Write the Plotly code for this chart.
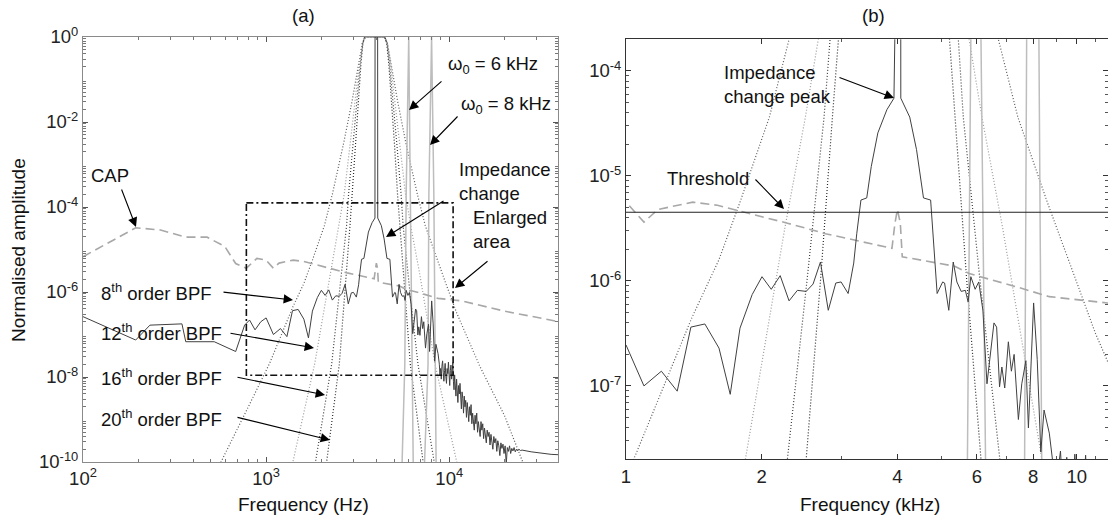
import plotly.graph_objects as go

# ---------------- data (frequency in Hz, amplitude as log10 exponent) ----------------
spec_f = [100, 140, 194, 232, 347, 364, 521, 682, 763, 812, 870, 935, 1000, 1096, 1198, 1299,
          1393, 1496, 1608, 1703, 1790, 1905, 2003, 2100, 2198, 2300, 2400, 2510, 2600, 2700,
          2810, 2920, 3000, 3110, 3200, 3250, 3320, 3420, 3500, 3620, 3790, 3930, 3935, 4065,
          4070, 4260, 4410, 4570, 4740, 4860, 4900, 5040, 5090, 5200, 5320, 5420, 5540, 5660,
          5740, 5820, 5950, 6060, 6190, 6320, 6430, 6550, 6640, 6740, 6820, 6920, 7050, 7160,
          7260, 7420, 7550, 7710, 7810, 8020, 8170, 8320, 8460, 8690,
          8830, 8900, 8970, 9050, 9120, 9200, 9280, 9350, 9430, 9500, 9580, 9660, 9740, 9820,
          9900, 9980, 10060, 10140, 10220, 10300, 10380, 10460, 10540, 10620, 10700, 10790,
          10880, 10970, 11060, 11150, 11250, 11350, 11450, 11550, 11650, 11750, 11860, 11970,
          12080, 12190, 12300, 12420, 12540, 12660, 12780, 12900, 13030, 13160, 13290, 13420,
          13560, 13700, 13840, 13980, 14130, 14280, 14430, 14590, 14750, 14910, 15070, 15240,
          15410, 15580, 15760, 15940, 16120, 16310, 16500, 16700, 16900, 17100, 17310, 17520,
          17740, 17960, 18190, 18420, 18660, 18900, 19150, 19400, 19660, 19920, 20200, 20480,
          20760, 21050, 21350, 21650, 21960, 22280, 22600, 22940, 23280, 23630, 24000, 24500,
          25000, 28000, 32000, 36000, 40000]
spec_e = [-6.58, -6.85, -7.13, -6.78, -6.75, -7.17, -7.17, -7.40, -6.78, -6.66, -6.89, -6.70,
          -6.61, -7.00, -6.86, -7.05, -6.44, -6.41, -6.64, -7.08, -6.45, -6.13, -5.96, -6.08,
          -5.95, -6.19, -6.09, -6.10, -6.03, -5.82, -6.28, -6.02, -6.01, -6.12, -5.83, -5.55,
          -5.23, -5.21, -4.91, -4.59, -4.37, -4.26, 0.0, 0.0, -4.26, -4.44, -4.75, -5.21, -5.23,
          -5.86, -6.12, -6.01, -6.02, -6.28, -5.82, -6.01, -6.10, -6.09, -6.20, -5.96, -6.08,
          -6.01, -6.28, -6.98, -6.72, -6.40, -6.44, -7.01, -6.82, -7.02, -6.58, -6.86, -6.70,
          -7.32, -6.98, -6.76, -7.40, -6.21, -6.75, -7.63, -7.23, -7.45,
          -7.70, -7.95, -7.80, -8.05, -7.75, -7.62, -7.90, -8.10, -7.85, -7.68, -7.98, -8.15,
          -7.80, -7.92, -7.65, -8.00, -8.20, -7.85, -7.72, -8.05, -7.90, -7.66, -8.10, -8.30,
          -7.95, -8.15, -8.45, -8.05, -8.25, -8.60, -8.20, -8.40, -8.15, -8.55, -8.75, -8.35,
          -8.50, -8.85, -8.45, -8.70, -8.55, -8.95, -8.60, -8.80, -9.05, -8.70, -8.90, -8.65,
          -9.10, -8.85, -9.00, -9.25, -8.90, -9.10, -8.85, -9.30, -9.05, -9.20, -9.40, -9.05,
          -9.25, -9.10, -9.45, -9.20, -9.35, -9.55, -9.25, -9.40, -9.30, -9.60, -9.35, -9.50,
          -9.70, -9.40, -9.55, -9.45, -9.75, -9.50, -9.62, -9.85, -9.55, -9.68, -9.58, -9.80,
          -9.62, -10.05, -9.66, -9.75, -9.62, -9.80, -9.68, -9.74, -9.66, -9.76, -9.70, -9.74,
          -9.70, -9.73, -9.72, -9.76, -9.80, -9.82, -9.83]

cap_f = [100, 194, 265, 364, 476, 595, 682, 780, 890, 1000, 1096, 1177, 1406, 1595, 1806,
         2280, 2770, 3890, 3950, 4000, 4060, 4100, 5360, 5770, 7260, 8690, 11700, 20000, 40000]
cap_e = [-5.17, -4.49, -4.54, -4.71, -4.71, -4.93, -5.33, -5.44, -5.21, -5.25, -5.44, -5.32,
         -5.25, -5.28, -5.34, -5.45, -5.55, -5.69, -5.45, -5.32, -5.45, -5.77, -5.86, -5.93,
         -6.05, -6.15, -6.21, -6.45, -6.70]

bpf8_f = [500, 567, 800, 1047, 1400, 1607, 1790, 2080, 2300, 2650, 2950, 3200, 3350, 3500,
          4400, 4600, 4800, 5220, 5800, 6700, 7400, 8600, 9580, 11000, 14700, 20000, 25000, 28000]
bpf8_e = [-10.6, -10.0, -8.7, -7.67, -6.35, -5.8, -5.25, -4.44, -3.7, -2.5, -1.5, -0.6, -0.15,
          0.0, 0.0, -0.15, -0.6, -1.5, -2.5, -3.7, -4.44, -5.25, -5.8, -6.5, -7.75, -8.9,
          -10.0, -10.5]

bpf12_f = [1300, 1400, 1840, 2250, 2500, 2670, 2880, 3050, 3230, 3350, 3450, 4450, 4600, 4770,
           5050, 5350, 5770, 6160, 6850, 8370, 11000, 11800]
bpf12_e = [-10.6, -10.0, -7.7, -5.5, -4.44, -3.7, -2.5, -1.5, -0.6, -0.15, 0.0, 0.0, -0.15,
           -0.6, -1.5, -2.5, -3.7, -4.44, -5.5, -7.7, -10.0, -10.6]

bpf16_f = [1780, 1860, 2280, 2520, 2750, 2820, 2980, 3120, 3270, 3370, 3450, 4450, 4570, 4710,
           4940, 5170, 5460, 5600, 6100, 6750, 8280, 8700]
bpf16_e = [-10.6, -10.0, -7.7, -6.0, -4.44, -3.7, -2.5, -1.5, -0.6, -0.15, 0.0, 0.0, -0.15,
           -0.6, -1.5, -2.5, -3.7, -4.44, -6.0, -7.7, -10.0, -10.6]

bpf20_f = [2070, 2140, 2510, 2700, 2870, 2950, 3070, 3180, 3300, 3380, 3450, 4450, 4560, 4670,
           4840, 5020, 5220, 5370, 5700, 6130, 7200, 7450]
bpf20_e = [-10.6, -10.0, -7.7, -6.0, -4.44, -3.7, -2.5, -1.5, -0.6, -0.15, 0.0, 0.0, -0.15,
           -0.6, -1.5, -2.5, -3.7, -4.44, -6.0, -7.7, -10.0, -10.6]

w6_f = [5480, 5720, 5820, 5990, 6010, 6130, 6280, 6380]
w6_e = [-10.6, -7.7, -3.7, 0.0, 0.0, -3.7, -7.7, -10.6]
w8_f = [7250, 7660, 7740, 7990, 8010, 8240, 8360, 8500]
w8_e = [-10.6, -7.7, -3.7, 0.0, 0.0, -3.7, -7.7, -10.6]

threshold_level = 4.5e-6
threshold_f = [900, 13000]
enlarged_f = [780, 10500]
enlarged_amp = [1.1e-8, 1.25e-4]

left_xticks = [100, 1000, 10000]
left_xtext = ["10<sup>2</sup>", "10<sup>3</sup>", "10<sup>4</sup>"]
left_yticks = [1e0, 1e-2, 1e-4, 1e-6, 1e-8, 1e-10]
left_ytext = ["10<sup>0</sup>", "10<sup>-2</sup>", "10<sup>-4</sup>", "10<sup>-6</sup>",
              "10<sup>-8</sup>", "10<sup>-10</sup>"]
right_xticks = [1000, 2000, 4000, 6000, 8000, 10000]
right_xtext = ["1", "2", "4", "6", "8", "10"]
right_yticks = [1e-4, 1e-5, 1e-6, 1e-7]
right_ytext = ["10<sup>-4</sup>", "10<sup>-5</sup>", "10<sup>-6</sup>", "10<sup>-7</sup>"]


def amp(exps):
    return [10 ** v for v in exps]


FONT = "Liberation Sans, Arial, sans-serif"
W, H = 1108, 524
L, R, T, B = 83, 0, 37, 62
PW, PH = W - L - R, H - T - B


def px(x):
    return (x - L) / PW


def py(y):
    return (H - B - y) / PH


fig = go.Figure()

series = [
    (bpf8_f, bpf8_e, dict(color="#5a5a5a", width=1.2, dash="1px,2px")),
    (bpf12_f, bpf12_e, dict(color="#9a9a9a", width=1.2, dash="1px,2px")),
    (bpf16_f, bpf16_e, dict(color="#3c3c3c", width=1.2, dash="1px,2px")),
    (bpf20_f, bpf20_e, dict(color="#2a2a2a", width=1.2, dash="1px,2px")),
    (w6_f, w6_e, dict(color="#bdbdbd", width=1.5)),
    (w8_f, w8_e, dict(color="#bdbdbd", width=1.5)),
    (cap_f, cap_e, dict(color="#a8a8a8", width=1.6, dash="9px,5px")),
    (spec_f, spec_e, dict(color="#404040", width=1.0)),
]

for xa, ya in (("x", "y"), ("x2", "y2")):
    for f, e, line in series:
        fig.add_trace(go.Scatter(x=f, y=amp(e), mode="lines", line=line,
                                 xaxis=xa, yaxis=ya, showlegend=False, hoverinfo="skip"))

# threshold (panel b)
fig.add_trace(go.Scatter(x=threshold_f, y=[threshold_level, threshold_level], mode="lines",
                         line=dict(color="#222222", width=1.1), xaxis="x2", yaxis="y2",
                         showlegend=False, hoverinfo="skip"))
# enlarged area rectangle (panel a)
fig.add_trace(go.Scatter(
    x=[enlarged_f[0], enlarged_f[1], enlarged_f[1], enlarged_f[0], enlarged_f[0]],
    y=[enlarged_amp[1], enlarged_amp[1], enlarged_amp[0], enlarged_amp[0], enlarged_amp[1]],
    mode="lines", line=dict(color="#111111", width=1.6, dash="7px,3px,2px,3px"),
    xaxis="x", yaxis="y", showlegend=False, hoverinfo="skip"))


def minor_vals(lo, hi):
    out = []
    d = lo
    while d < hi:
        for k in range(2, 10):
            out.append(k * 10 ** d)
        d += 1
    return out


TICK_SIZE = 18.5
TXT_SIZE = 18.5
axis_common = dict(type="log", showgrid=False, zeroline=False, showline=True, mirror="ticks",
                   ticks="inside", ticklen=5, tickwidth=1,
                   tickfont=dict(family=FONT, size=TICK_SIZE, color="#222"))

fig.update_layout(
    width=W, height=H, margin=dict(l=L, r=R, t=T, b=B),
    paper_bgcolor="white", plot_bgcolor="white",
    xaxis=dict(**axis_common, domain=[0, px(558)], range=[2, 4.594], linecolor="#8a8a8a",
               tickcolor="#555", tickvals=left_xticks, ticktext=left_xtext, anchor="y",
               minor=dict(ticks="inside", ticklen=3, tickcolor="#777",
                          tickvals=minor_vals(2, 5))),
    yaxis=dict(**axis_common, domain=[0, 1], range=[-10, 0], linecolor="#8a8a8a",
               tickcolor="#555", tickvals=left_yticks, ticktext=left_ytext, anchor="x",
               minor=dict(ticks="inside", ticklen=3, tickcolor="#777",
                          tickvals=minor_vals(-10, 0))),
    xaxis2=dict(**axis_common, domain=[px(626), 1], range=[3, 4.0692], linecolor="#333",
                tickcolor="#333", tickvals=right_xticks, ticktext=right_xtext, anchor="y2",
                minor=dict(ticks="inside", ticklen=3, tickcolor="#555",
                           tickvals=[3000, 5000, 7000, 9000, 11000])),
    yaxis2=dict(**axis_common, domain=[py(459.3), py(39.3)], range=[-7.699, -3.699],
                anchor="x2", linecolor="#333", tickcolor="#333",
                tickvals=right_yticks, ticktext=right_ytext,
                minor=dict(ticks="inside", ticklen=3, tickcolor="#555",
                           tickvals=minor_vals(-8, -3))),
)

anns = []


def text(x, y, s, anchor="center", angle=0, size=TXT_SIZE):
    anns.append(dict(x=px(x), y=py(y), xref="paper", yref="paper", text=s, showarrow=False,
                     xanchor=anchor, yanchor="middle", align="left", textangle=angle,
                     font=dict(family=FONT, size=size, color="#111")))


def arrow(tail, tip):
    anns.append(dict(x=px(tip[0]), y=py(tip[1]), xref="paper", yref="paper", text="",
                     showarrow=True, axref="pixel", ayref="pixel",
                     ax=tail[0] - tip[0], ay=tail[1] - tip[1],
                     arrowhead=2, arrowsize=1.7, arrowwidth=1.1, arrowcolor="#000",
                     standoff=0, startstandoff=0))


text(303, 15, "(a)")
text(873, 15, "(b)")
text(18, 250, "Normalised amplitude", angle=-90, size=19)
text(303, 505, "Frequency (Hz)", size=19)
text(870, 505, "Frequency (kHz)", size=19)

text(446, 65, "ω<sub>0</sub> = 6 kHz", anchor="left")
text(459, 105, "ω<sub>0</sub> = 8 kHz", anchor="left")
text(457, 181, "Impedance<br>change", anchor="left")
text(471, 229, "Enlarged<br>area", anchor="left")
text(110, 175, "CAP")
text(99, 292, "8<sup>th</sup> order BPF", anchor="left")
text(99, 332, "12<sup>th</sup> order BPF", anchor="left")
text(99, 377, "16<sup>th</sup> order BPF", anchor="left")
text(99, 418, "20<sup>th</sup> order BPF", anchor="left")
text(722, 84, "Impedance<br>change peak", anchor="left")
text(665, 178, "Threshold", anchor="left")

arrow((443, 80), (409, 110))
arrow((459, 115), (430, 145))
arrow((445, 200), (386, 237))
arrow((489, 260), (455, 288))
arrow((121, 188), (136, 227))
arrow((222, 292), (293, 300))
arrow((229, 333), (314, 348))
arrow((236, 377), (325, 395))
arrow((236, 417), (330, 440))
arrow((838, 77), (894, 98))
arrow((754, 178), (784, 209))

fig.update_layout(annotations=anns)
fig.write_html("out.html")
